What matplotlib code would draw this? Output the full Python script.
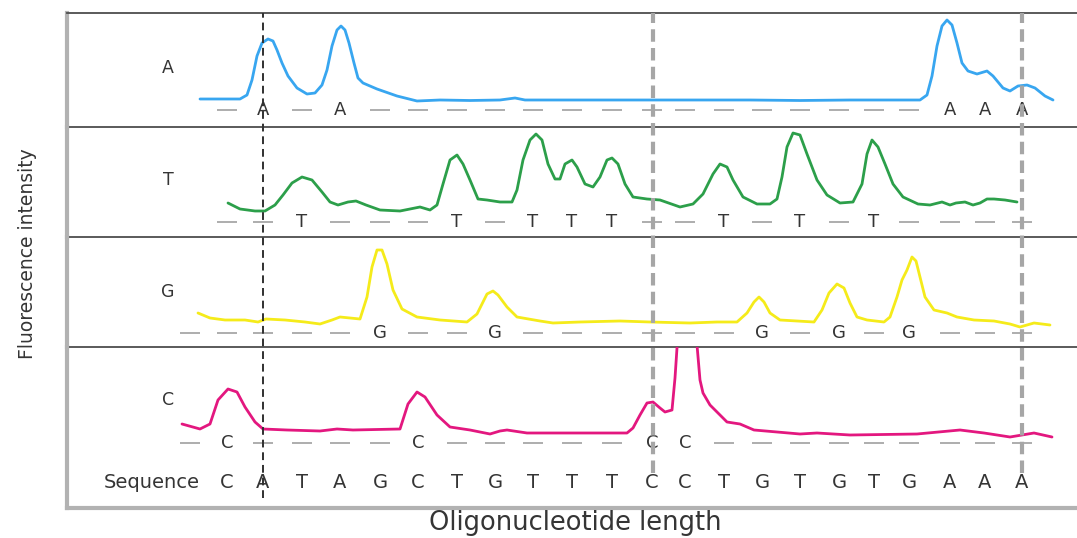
import matplotlib.pyplot as plt

W, H = 1077, 538

seq = list("CATAGCTGTTTCCTGTGTGAAA")
seq_x = [227, 263, 302, 340, 380, 418, 457, 495, 533, 572, 612, 652,
         685, 724, 762, 800, 839, 874, 909, 950, 985, 1022]

bases = ["A", "T", "G", "C"]
colors = ["#38a6f0", "#2c9f4a", "#f5eb1a", "#e3177f"]

# fluorescence traces (x, intensity above panel floor)
a_x = [200, 240, 247, 252, 257, 262, 268, 273, 277, 282, 288, 297, 307, 315, 322, 327,
       332, 337, 341, 345, 349, 354, 358, 363, 377, 397, 417, 440, 470, 500, 515, 525,
       560, 600, 650, 700, 750, 800, 850, 900, 920, 927, 932, 937, 942, 947, 952, 957,
       962, 968, 977, 987, 993, 1003, 1010, 1018, 1027, 1035, 1045, 1053]
a_y = [28, 28, 32, 47, 71, 84, 88, 86, 77, 64, 51, 39, 33, 34, 42, 57,
       81, 97, 101, 97, 84, 64, 49, 44, 38, 31, 26, 27, 26.5, 27, 29, 27,
       27, 27, 27, 27, 27, 26.5, 27, 27, 27, 32, 51, 81, 101, 107, 102, 84,
       64, 56, 53, 56, 51, 39, 36, 41, 42, 39, 31, 27]

t_x = [228, 240, 255, 265, 275, 283, 292, 302, 312, 322, 330, 338, 348, 356, 366, 380,
       400, 420, 430, 437, 443, 450, 457, 463, 470, 478, 487, 500, 512, 517, 523, 530,
       536, 542, 548, 555, 560, 565, 572, 577, 585, 593, 600, 607, 612, 618, 625, 633,
       647, 660, 680, 693, 703, 713, 720, 727, 733, 743, 757, 770, 777, 782, 787, 793,
       800, 807, 817, 827, 840, 853, 862, 867, 872, 878, 885, 893, 903, 918, 930, 942,
       950, 956, 965, 973, 980, 987, 994, 1005, 1017]
t_y = [34, 28, 26, 26, 32, 42, 54, 60, 57, 45, 35, 32, 35, 36, 32, 27,
       26, 30, 27, 32, 53, 77, 82, 73, 57, 38, 37, 35, 35, 47, 77, 97,
       103, 97, 73, 58, 58, 73, 77, 70, 53, 50, 60, 77, 79, 73, 53, 40,
       38, 37, 30, 33, 43, 63, 73, 70, 57, 40, 33, 33, 38, 60, 90, 104,
       102, 83, 57, 42, 34, 35, 53, 83, 97, 90, 73, 53, 40, 33, 32, 35,
       32, 34, 35, 32, 34, 38, 38, 37, 35]

g_x = [198, 210, 225, 245, 258, 266, 285, 305, 320, 332, 340, 360, 367, 372, 377, 382,
       387, 393, 402, 417, 440, 467, 477, 487, 493, 498, 507, 517, 540, 553, 580, 620,
       650, 690, 717, 737, 747, 754, 759, 764, 770, 780, 814, 822, 829, 837, 844, 850,
       857, 867, 884, 890, 897, 902, 907, 912, 916, 920, 925, 934, 947, 957, 974, 994,
       1010, 1020, 1034, 1050]
g_y = [34, 29, 27, 27, 25, 28, 27, 25, 23, 27, 30, 28, 50, 80, 97, 97,
       83, 57, 38, 30, 27, 25, 33, 53, 56, 52, 40, 30, 26, 24, 25, 26,
       25, 24, 25, 25, 34, 45, 50, 45, 34, 27, 25, 37, 54, 63, 59, 44,
       30, 27, 25, 30, 50, 67, 77, 90, 86, 70, 50, 37, 34, 30, 27, 26,
       23, 20, 24, 22]

c_x = [182, 200, 210, 218, 228, 237, 245, 255, 263, 287, 320, 337, 353, 400, 408, 417,
       425, 437, 450, 470, 490, 500, 507, 527, 580, 627, 633, 640, 647, 653, 660, 665,
       672, 675, 677, 682, 688, 694, 697, 700, 703, 710, 717, 727, 740, 754, 800, 817,
       850, 917, 960, 984, 1010, 1034, 1052]
c_y = [84, 79, 84, 108, 119, 116, 101, 86, 79, 78, 77, 79, 78, 79, 104, 116,
       111, 93, 81, 78, 74, 77, 78, 75, 75, 75, 80, 93, 105, 106, 100, 96,
       98, 130, 160, 208, 218, 208, 163, 128, 115, 103, 96, 86, 84, 78, 74, 75,
       73, 74, 78, 75, 71, 75, 71]

traces_x = [a_x, t_x, g_x, c_x]
traces_y = [a_y, t_y, g_y, c_y]

# panel geometry (pixel rows in the figure)
tops = [13, 127, 237, 347]
bottoms = [127, 237, 347, 508]
label_y = [59, 57, 55, 108]
row_y = [17, 15, 14, 65]
row_extra = [False, False, True, True]
seq_row_y = 25
marker_x = [263, 653, 1022]

fig = plt.figure(figsize=(W / 100, H / 100), dpi=100)
left = 67 / W
width = 1 - left
frame_col = "#b2b2b2"
sep_col = "#4d4d4d"
txt_col = "#353535"

for i in range(4):
    hgt = bottoms[i] - tops[i]
    ax = fig.add_axes([left, 1 - bottoms[i] / H, width, hgt / H])
    ax.set_xlim(67, 1077)
    ax.set_ylim(0, hgt)
    ax.set_xticks([])
    ax.set_yticks([])
    ax.patch.set_alpha(0)
    for s in ax.spines.values():
        s.set_visible(False)
    ax.spines["left"].set_visible(True)
    ax.spines["left"].set_color(frame_col)
    ax.spines["left"].set_linewidth(3)
    ax.spines["bottom"].set_visible(True)
    if i < 3:
        ax.spines["bottom"].set_color(sep_col)
        ax.spines["bottom"].set_linewidth(1.3)
    else:
        ax.spines["bottom"].set_color(frame_col)
        ax.spines["bottom"].set_linewidth(3)
    if i == 0:
        ax.spines["top"].set_visible(True)
        ax.spines["top"].set_color(sep_col)
        ax.spines["top"].set_linewidth(1.3)

    ax.plot(traces_x[i], traces_y[i], color=colors[i], lw=2.0,
            solid_joinstyle="round", solid_capstyle="round")

    ax.text(168, label_y[i], bases[i], ha="center", va="center",
            fontsize=12.5, color=txt_col)

    # dash row with the base letters
    xs = ([190] if row_extra[i] else []) + seq_x
    ss = ([""] if row_extra[i] else []) + seq
    for x, s in zip(xs, ss):
        if s == bases[i]:
            ax.text(x, row_y[i], s, ha="center", va="center",
                    fontsize=13, color=txt_col)
        else:
            ax.hlines(row_y[i], x - 10, x + 10, color="#a0a0a0", lw=1.2)

    if i == 3:
        ax.text(200, seq_row_y, "Sequence", ha="right", va="center",
                fontsize=14, color=txt_col)
        for x, s in zip(seq_x, seq):
            ax.text(x, seq_row_y, s, ha="center", va="center",
                    fontsize=14, color=txt_col)

# dashed markers over the whole stack
ov = fig.add_axes([left, 1 - 508 / H, width, 495 / H])
ov.set_xlim(67, 1077)
ov.set_ylim(0, 1)
ov.axis("off")
ov.axvline(marker_x[0], ymin=0.02, ymax=1, color="#303030", lw=1.4,
           linestyle=(0, (4, 2.5)))
ov.axvline(marker_x[1], ymin=0.07, ymax=1, color="#a6a6a6", lw=3,
           linestyle=(0, (3, 1.5)))
ov.axvline(marker_x[2], ymin=0.07, ymax=1, color="#a6a6a6", lw=3,
           linestyle=(0, (3, 1.5)))

fig.text(28 / W, 1 - 254 / H, "Fluorescence intensity", rotation=90,
         ha="center", va="center", fontsize=13.5, color=txt_col)
fig.text(575 / W, 1 - 530 / H, "Oligonucleotide length", ha="center",
         va="baseline", fontsize=18.5, color=txt_col)

fig.savefig("out.png", dpi=100)
